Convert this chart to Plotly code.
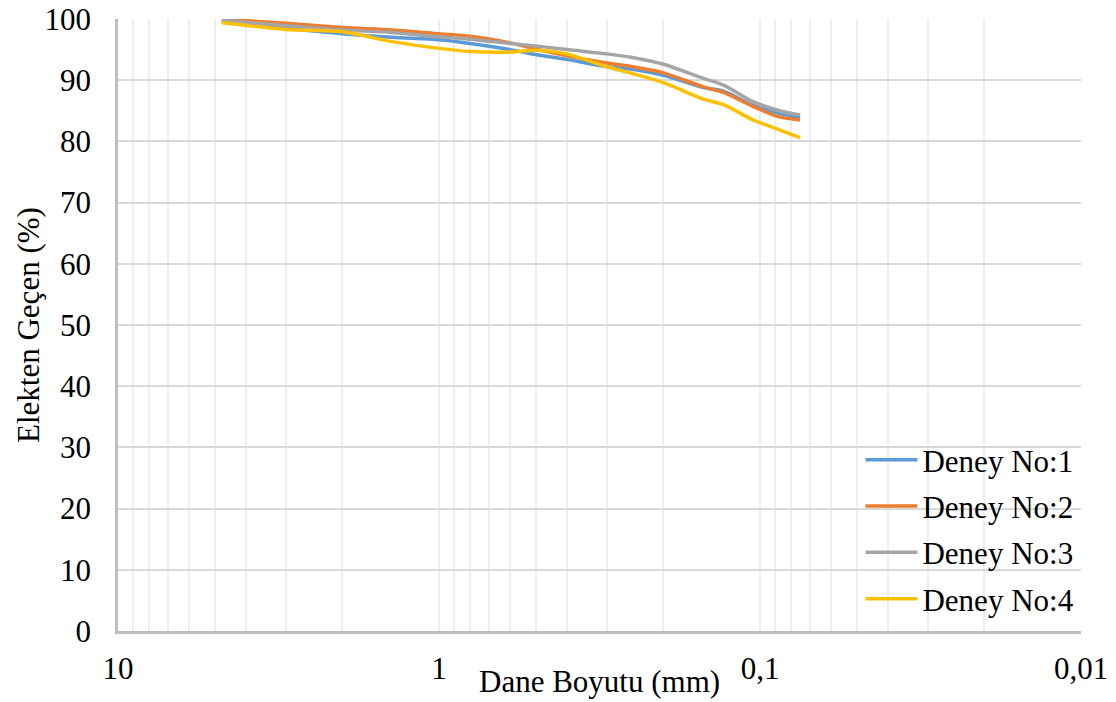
import plotly.graph_objects as go

# Sieve sizes (mm) read along the x axis
sizes = [4.75, 3, 2, 1.4, 1, 0.8, 0.6, 0.5, 0.4, 0.3, 0.25, 0.2, 0.15, 0.13, 0.105, 0.087, 0.075]

deney1 = [99.6, 98.5, 97.6, 97.0, 96.6, 96.0, 95.0, 94.2, 93.4, 92.2, 91.8, 90.8, 88.8, 88.2, 85.9, 84.6, 83.9]
deney2 = [100.0, 99.3, 98.6, 98.2, 97.6, 97.2, 96.1, 95.1, 94.0, 92.8, 92.2, 91.2, 88.9, 88.0, 85.7, 84.0, 83.5]
deney3 = [99.8, 98.9, 98.2, 97.8, 97.1, 96.7, 96.0, 95.6, 95.0, 94.3, 93.7, 92.6, 90.3, 89.2, 86.5, 85.0, 84.3]
deney4 = [99.4, 98.3, 97.9, 96.3, 95.2, 94.7, 94.6, 94.9, 94.3, 92.2, 91.1, 89.6, 86.9, 86.0, 83.5, 81.9, 80.6]

series_names = ["Deney No:1", "Deney No:2", "Deney No:3", "Deney No:4"]
series_values = [deney1, deney2, deney3, deney4]
colors = ["#5B9BD5", "#ED7D31", "#A5A5A5", "#FFC000"]

x_tickvals = [10, 1, 0.1, 0.01]
x_ticktext = ["10", "1", "0,1", "0,01"]
minor_vals = [m * d for d in (1, 0.1, 0.01) for m in range(2, 10)]

FONT = "Liberation Serif"

fig = go.Figure()
for name, vals, col in zip(series_names, series_values, colors):
    fig.add_trace(go.Scatter(
        x=sizes, y=vals, name=name, mode="lines",
        line=dict(color=col, width=3.5, shape="spline", smoothing=0.8),
        legendgroup=name,
    ))

fig.update_layout(
    width=1116, height=702,
    margin=dict(l=118, r=35, t=19, b=71, autoexpand=False),
    paper_bgcolor="white", plot_bgcolor="white",
    font=dict(family=FONT, size=31, color="black"),
    showlegend=True,
    legend=dict(
        x=0.771, y=0.008, xanchor="left", yanchor="bottom",
        bgcolor="rgba(255,255,255,0)",
        font=dict(family=FONT, size=31, color="black"),
        tracegroupgap=3, itemwidth=52,
    ),
)

fig.update_xaxes(
    type="log", range=[1, -2], automargin=False,
    tickvals=x_tickvals, ticktext=x_ticktext,
    showgrid=True, gridcolor="#eeeeee", gridwidth=1.5,
    minor=dict(tickvals=minor_vals, showgrid=True, gridcolor="#eeeeee", gridwidth=1.5),
    showline=True, linecolor="#bfbfbf", linewidth=2.5,
    zeroline=False, ticks="", ticklabelstandoff=8,
    tickfont=dict(family=FONT, size=31),
)
fig.update_yaxes(
    range=[0, 100], dtick=10, automargin=False,
    showgrid=True, gridcolor="#d9d9d9", gridwidth=2,
    showline=True, linecolor="#bfbfbf", linewidth=2.5,
    zeroline=False, ticks="", ticklabelstandoff=18,
    tickfont=dict(family=FONT, size=31),
)

fig.add_annotation(
    text="Dane Boyutu (mm)", xref="paper", yref="paper",
    x=0.5, y=-0.083, xanchor="center", yanchor="middle",
    showarrow=False, font=dict(family=FONT, size=31, color="black"),
)
fig.add_annotation(
    text="Elekten Geçen (%)", xref="paper", yref="paper",
    x=-0.0935, y=0.5, xanchor="center", yanchor="middle", textangle=-90,
    showarrow=False, font=dict(family=FONT, size=31, color="black"),
)

fig.write_html("out.html")
